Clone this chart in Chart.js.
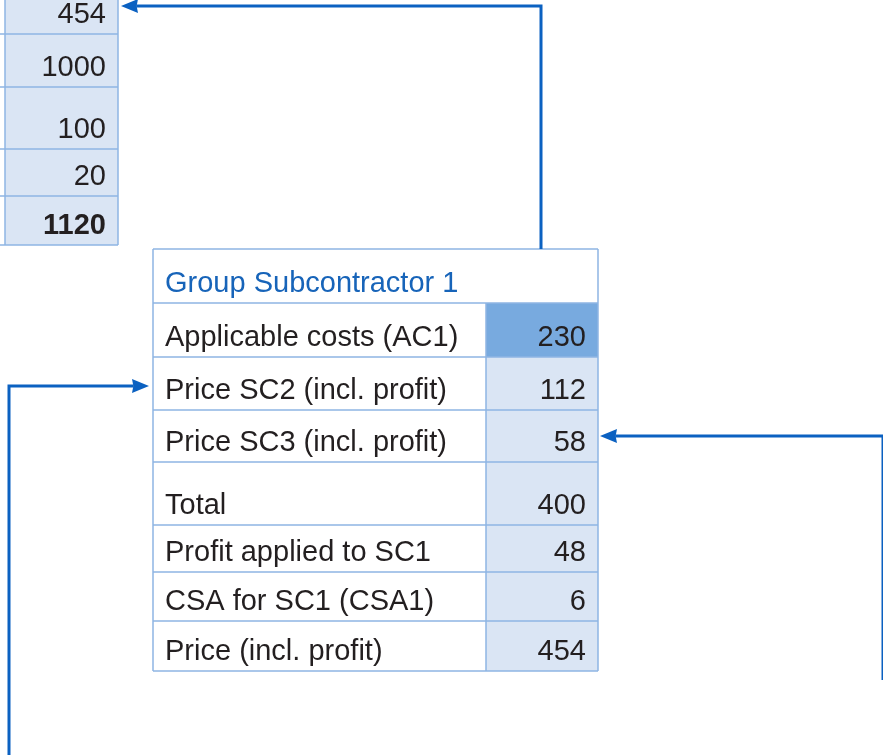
<!DOCTYPE html>
<html>
<head>
<meta charset="utf-8">
<script src="https://cdn.jsdelivr.net/npm/chart.js@4.4.1/dist/chart.umd.min.js"></script>
<style>
  html, body { margin: 0; padding: 0; background: #ffffff; }
  #wrap { width: 883px; height: 755px; position: relative; }
</style>
</head>
<body>
<div id="wrap"><canvas id="c" width="883" height="755"></canvas></div>
<script>
// ---- data ----
const tableTitle = "Group Subcontractor 1";
const rowLabels = [
  "Applicable costs (AC1)",
  "Price SC2 (incl. profit)",
  "Price SC3 (incl. profit)",
  "Total",
  "Profit applied to SC1",
  "CSA for SC1 (CSA1)",
  "Price (incl. profit)"
];
const rowValues = [230, 112, 58, 400, 48, 6, 454];
const upstreamValues = [454, 1000, 100, 20, 1120];
const upstreamBold = [false, false, false, false, true];
const highlightedRow = 0;

// ---- layout (pixel space of the hidden linear scales) ----
const L = {
  main: { x0: 153, xDiv: 486, x1: 598, edges: [249, 303, 357, 410, 462, 525, 572, 621, 671] },
  up: { xL: 5, x1: 118, edges: [-10, 34, 87, 149, 196, 245] },
  font: '29px "Liberation Sans", Arial, sans-serif',
  fontBold: 'bold 29px "Liberation Sans", Arial, sans-serif',
  colors: {
    fill: '#dae5f4', dark: '#78aadf', border: '#8fb5e3', text: '#231f20',
    title: '#1764b9', arrow: '#0b61c1'
  }
};

const tablePlugin = {
  id: 'tablePlugin',
  afterDraw(chart) {
    const ctx = chart.ctx;
    const X = v => chart.scales.x.getPixelForValue(v);
    const Y = v => chart.scales.y.getPixelForValue(v);
    const C = L.colors;
    ctx.save();

    // ---- upstream (partially visible) table ----
    const ue = L.up.edges;
    ctx.fillStyle = C.fill;
    ctx.fillRect(X(L.up.xL), Y(ue[0]), X(L.up.x1) - X(L.up.xL), Y(ue[ue.length - 1]) - Y(ue[0]));
    ctx.strokeStyle = C.border;
    ctx.lineWidth = 1.5;
    ctx.beginPath();
    ue.slice(1).forEach(e => { ctx.moveTo(X(0), Y(e)); ctx.lineTo(X(L.up.x1), Y(e)); });
    ctx.moveTo(X(L.up.xL), Y(ue[0])); ctx.lineTo(X(L.up.xL), Y(ue[ue.length - 1]));
    ctx.moveTo(X(L.up.x1), Y(ue[0])); ctx.lineTo(X(L.up.x1), Y(ue[ue.length - 1]));
    ctx.stroke();
    ctx.fillStyle = C.text;
    ctx.textAlign = 'right';
    ctx.textBaseline = 'alphabetic';
    upstreamValues.forEach((v, i) => {
      ctx.font = upstreamBold[i] ? L.fontBold : L.font;
      ctx.fillText(String(v), X(L.up.x1 - 12), Y(ue[i + 1] - 11));
    });

    // ---- main table ----
    const m = L.main, e = m.edges;
    ctx.fillStyle = '#ffffff';
    ctx.fillRect(X(m.x0), Y(e[0]), X(m.x1) - X(m.x0), Y(e[e.length - 1]) - Y(e[0]));
    rowValues.forEach((v, i) => {
      ctx.fillStyle = i === highlightedRow ? C.dark : C.fill;
      ctx.fillRect(X(m.xDiv), Y(e[i + 1]), X(m.x1) - X(m.xDiv), Y(e[i + 2]) - Y(e[i + 1]));
    });
    ctx.strokeStyle = C.border;
    ctx.lineWidth = 1.5;
    ctx.beginPath();
    e.forEach(y => { ctx.moveTo(X(m.x0), Y(y)); ctx.lineTo(X(m.x1), Y(y)); });
    ctx.moveTo(X(m.x0), Y(e[0])); ctx.lineTo(X(m.x0), Y(e[e.length - 1]));
    ctx.moveTo(X(m.x1), Y(e[0])); ctx.lineTo(X(m.x1), Y(e[e.length - 1]));
    ctx.moveTo(X(m.xDiv), Y(e[1])); ctx.lineTo(X(m.xDiv), Y(e[e.length - 1]));
    ctx.stroke();

    ctx.font = L.font;
    ctx.textBaseline = 'alphabetic';
    ctx.textAlign = 'left';
    ctx.fillStyle = C.title;
    ctx.fillText(tableTitle, X(m.x0 + 12), Y(e[1] - 11));
    rowLabels.forEach((lab, i) => {
      ctx.fillStyle = C.text;
      ctx.textAlign = 'left';
      ctx.fillText(lab, X(m.x0 + 12), Y(e[i + 2] - 11));
      ctx.textAlign = 'right';
      ctx.fillText(String(rowValues[i]), X(m.x1 - 12), Y(e[i + 2] - 11));
    });

    // ---- connector arrows ----
    const arrow = (pts) => {
      ctx.strokeStyle = C.arrow;
      ctx.fillStyle = C.arrow;
      ctx.lineWidth = 3;
      ctx.lineJoin = 'miter';
      const n = pts.length;
      const [tx, ty] = pts[n - 1];
      const [px, py] = pts[n - 2];
      const dx = Math.sign(tx - px), dy = Math.sign(ty - py);
      const hl = 17, hw = 7;
      ctx.beginPath();
      ctx.moveTo(X(pts[0][0]), Y(pts[0][1]));
      for (let k = 1; k < n - 1; k++) ctx.lineTo(X(pts[k][0]), Y(pts[k][1]));
      ctx.lineTo(X(tx - dx * hl * 0.9), Y(ty - dy * hl * 0.9));
      ctx.stroke();
      ctx.beginPath();
      ctx.moveTo(X(tx), Y(ty));
      ctx.lineTo(X(tx - dx * hl - dy * hw), Y(ty - dy * hl - dx * hw));
      ctx.lineTo(X(tx - dx * hl * 0.92), Y(ty - dy * hl * 0.92));
      ctx.lineTo(X(tx - dx * hl + dy * hw), Y(ty - dy * hl + dx * hw));
      ctx.closePath();
      ctx.fill();
    };
    // final price -> upstream first row
    arrow([[541, e[0]], [541, 6], [L.up.x1 + 3, 6]]);
    // SC2 from left
    const ySC2 = 386, ySC3 = 436;
    arrow([[9, 755], [9, ySC2], [m.x0 - 4, ySC2]]);
    // SC3 from right
    arrow([[883, 680], [883, ySC3], [m.x1 + 2, ySC3]]);

    ctx.restore();
  }
};

new Chart(document.getElementById('c'), {
  type: 'scatter',
  data: { datasets: [] },
  options: {
    responsive: false,
    animation: false,
    layout: { padding: 0 },
    plugins: { legend: { display: false }, tooltip: { enabled: false } },
    scales: {
      x: { type: 'linear', min: 0, max: 883, display: false },
      y: { type: 'linear', min: 0, max: 755, reverse: true, display: false }
    }
  },
  plugins: [tablePlugin]
});
</script>
</body>
</html>
